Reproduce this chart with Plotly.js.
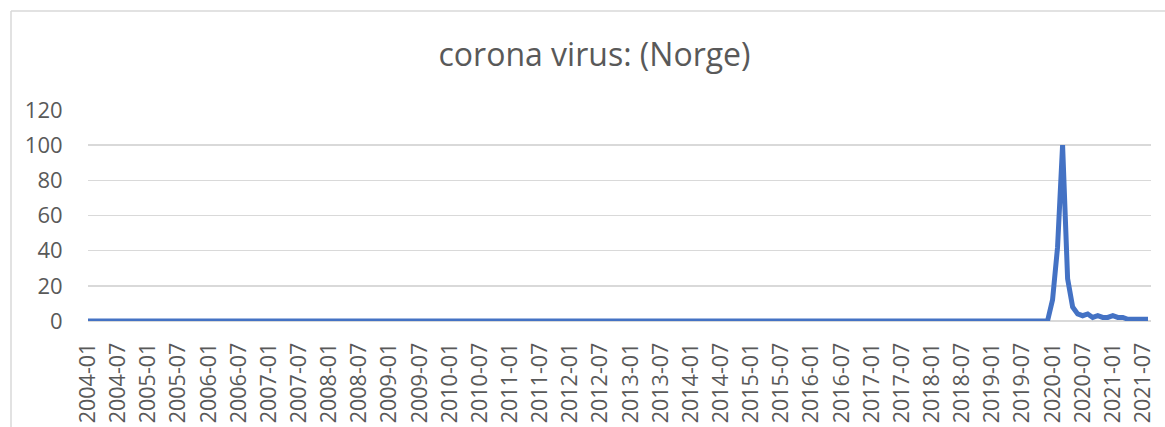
<!DOCTYPE html>
<html>
<head>
<meta charset="utf-8">
<script src="https://cdn.plot.ly/plotly-3.0.1.min.js"></script>
<style>
html,body{margin:0;padding:0;background:#fff;}
#chart{width:1165px;height:427px;}
</style>
</head>
<body>
<div id="chart"></div>
<script>
const chartTitle = "corona virus: (Norge)";
const startYear = 2004;
const endYear = 2021;
const endMonth = 8;

// monthly interest values, 2004-01 .. 2021-08 (one row per year)
const values2004to2019 = [
  0,0,0,0,0,0,0,0,0,0,0,0, // 2004
  0,0,0,0,0,0,0,0,0,0,0,0, // 2005
  0,0,0,0,0,0,0,0,0,0,0,0, // 2006
  0,0,0,0,0,0,0,0,0,0,0,0, // 2007
  0,0,0,0,0,0,0,0,0,0,0,0, // 2008
  0,0,0,0,0,0,0,0,0,0,0,0, // 2009
  0,0,0,0,0,0,0,0,0,0,0,0, // 2010
  0,0,0,0,0,0,0,0,0,0,0,0, // 2011
  0,0,0,0,0,0,0,0,0,0,0,0, // 2012
  0,0,0,0,0,0,0,0,0,0,0,0, // 2013
  0,0,0,0,0,0,0,0,0,0,0,0, // 2014
  0,0,0,0,0,0,0,0,0,0,0,0, // 2015
  0,0,0,0,0,0,0,0,0,0,0,0, // 2016
  0,0,0,0,0,0,0,0,0,0,0,0, // 2017
  0,0,0,0,0,0,0,0,0,0,0,0, // 2018
  0,0,0,0,0,0,0,0,0,0,0,0  // 2019
];
const values2020 = [12,42,100,24,8,4,3,4,2,3,2,2];
const values2021 = [3,2,2,1,1,1,1,1];

const values = values2004to2019.concat(values2020, values2021);

// month categories
const months = [];
for (let y = startYear; y <= endYear; y++) {
  for (let m = 1; m <= 12; m++) {
    if (y === endYear && m > endMonth) break;
    months.push(y + "-" + String(m).padStart(2, "0"));
  }
}
// tick labels: every 6 months
const tickLabels = months.filter((d, i) => i % 6 === 0);

const textColor = "#595959";
const font = "'Open Sans', 'Liberation Sans', sans-serif";

const trace = {
  x: months,
  y: values,
  type: "scatter",
  mode: "lines",
  line: {color: "#4472C4", width: 5, shape: "linear"},
  hoverinfo: "x+y"
};

const layout = {
  width: 1165,
  height: 427,
  paper_bgcolor: "#ffffff",
  plot_bgcolor: "#ffffff",
  margin: {l: 88, r: 14, t: 110, b: 106},
  showlegend: false,
  title: {
    text: chartTitle,
    font: {family: font, size: 32, color: textColor},
    x: 0.5103, xanchor: "center",
    y: 58, yref: "container", yanchor: "middle"
  },
  xaxis: {
    type: "category",
    range: [0, months.length - 1 + 0.6],
    tickmode: "array",
    tickvals: tickLabels,
    ticktext: tickLabels,
    tickangle: -90,
    tickfont: {family: font, size: 21.5, color: textColor},
    ticks: "outside",
    ticklen: 12,
    tickcolor: "rgba(0,0,0,0)",
    showgrid: false,
    showline: false,
    zeroline: false,
    fixedrange: true
  },
  yaxis: {
    range: [0, 120],
    tickvals: [0, 20, 40, 60, 80, 100, 120],
    tickfont: {family: font, size: 22, color: textColor},
    ticks: "outside",
    ticklen: 20,
    tickcolor: "rgba(0,0,0,0)",
    showgrid: true,
    gridcolor: "#d9d9d9",
    gridwidth: 1.5,
    zeroline: true,
    zerolinecolor: "#d9d9d9",
    zerolinewidth: 1.5,
    showline: false,
    fixedrange: true
  },
  shapes: [
    {type: "line", xref: "paper", yref: "paper",
     x0: -77/1063, x1: 1.2, y0: 1 + 99/211, y1: 1 + 99/211,
     line: {color: "#d9d9d9", width: 1.5}},
    {type: "line", xref: "paper", yref: "paper",
     x0: -77/1063, x1: -77/1063, y0: 1 + 99/211, y1: -1,
     line: {color: "#d9d9d9", width: 1.5}}
  ]
};

Plotly.newPlot("chart", [trace], layout, {displayModeBar: false, staticPlot: true});
</script>
</body>
</html>
